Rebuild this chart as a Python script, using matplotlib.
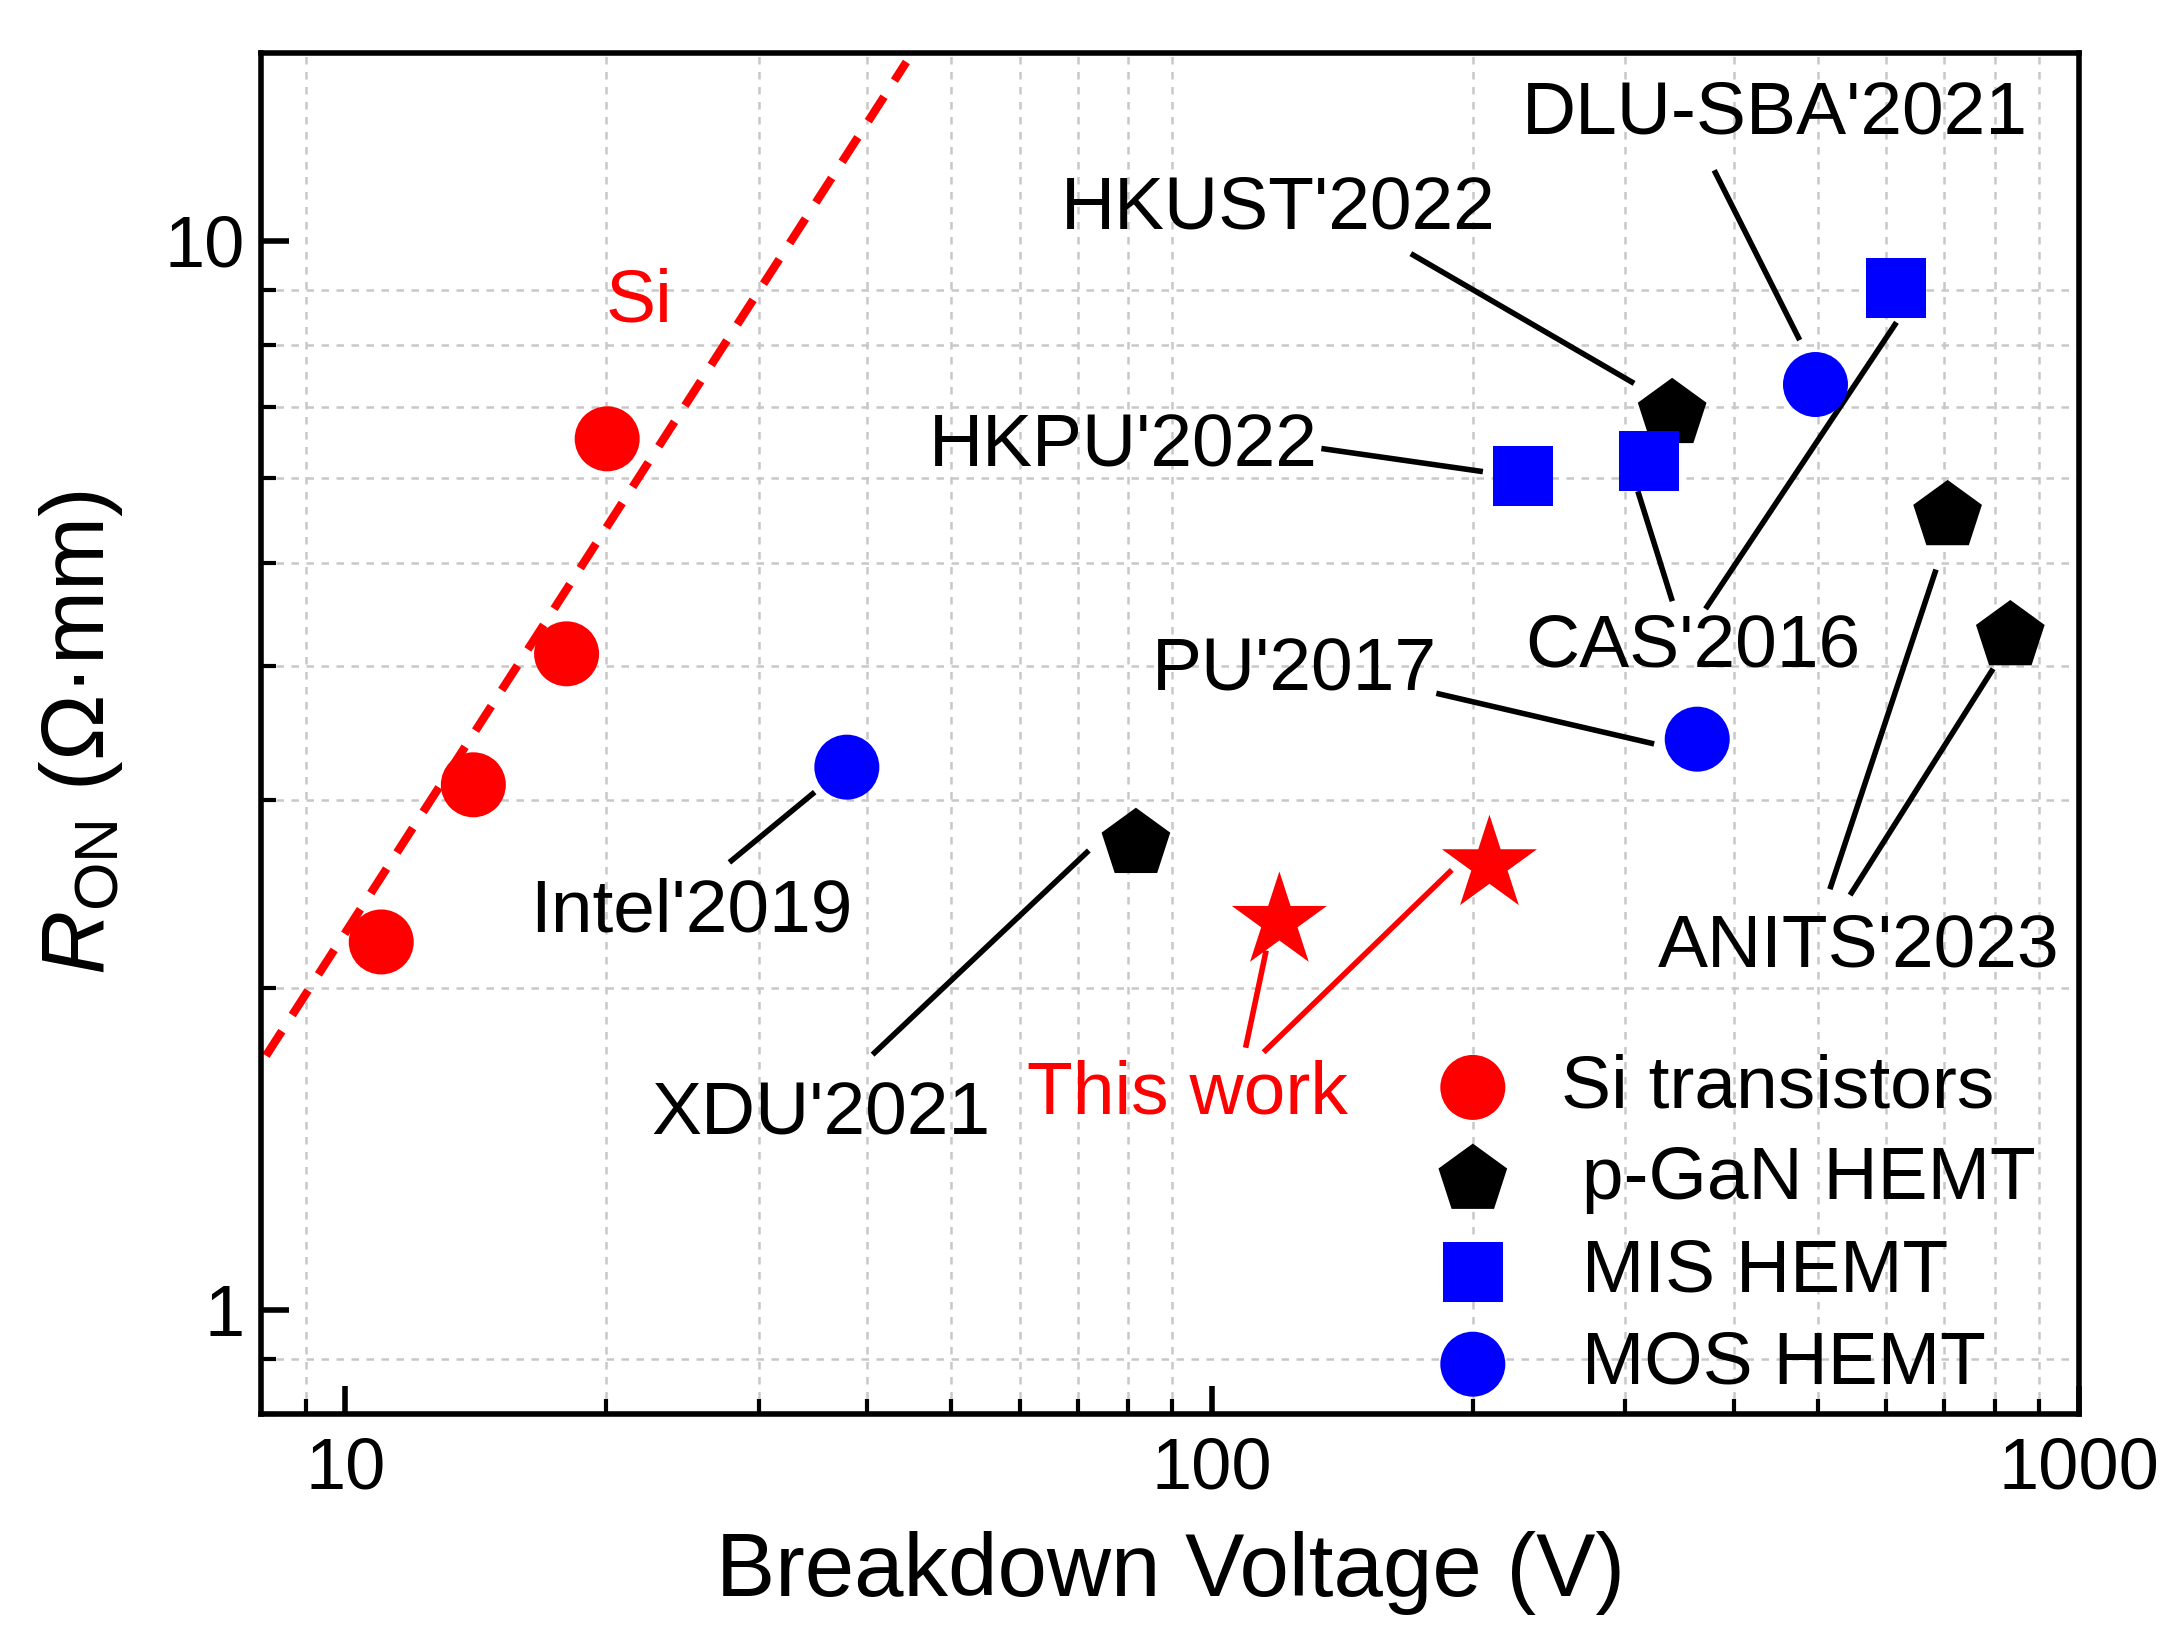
import matplotlib.pyplot as plt
import numpy as np

plt.rcParams['font.family'] = ['Liberation Sans', 'DejaVu Sans']
plt.rcParams['mathtext.fontset'] = 'custom'
plt.rcParams['mathtext.rm'] = 'Liberation Sans'
plt.rcParams['mathtext.it'] = 'Liberation Sans:italic'

# Si transistors
si_v = [11.0, 14.05, 18.0, 20.05]
si_r = [2.21, 3.10, 4.11, 6.53]

# p-GaN HEMT (XDU'2021, HKUST'2022, ANITS'2023 x2)
pgan_v = [81.7, 339.6, 706, 834]
pgan_r = [2.73, 6.89, 5.53, 4.27]

# MIS HEMT (HKPU'2022, CAS'2016 x2)
mis_v = [228.6, 319, 616]
mis_r = [6.03, 6.22, 9.03]

# MOS HEMT (Intel'2019, PU'2017, DLU-SBA'2021)
mos_v = [37.9, 363, 497]
mos_r = [3.22, 3.42, 7.34]

# this work
tw_v = [119.6, 209]
tw_r = [2.31, 2.61]

# Si limit
si_lim_v = [8.1, 44.4]
si_lim_r = [1.73, 14.7]

# etiquetas y lineas guia
etiquetas = ["HKUST'2022", "DLU-SBA'2021", "HKPU'2022", "CAS'2016",
             "PU'2017", "Intel'2019", "XDU'2021", "ANITS'2023"]
etiq_pos = [(119.2, 10.70), (446.6, 13.15), (79.1, 6.41), (359, 4.17),
            (124.6, 3.96), (25.1, 2.355), (35.4, 1.523), (557, 2.187)]
lineas = [
    [((170.7, 9.70), (305, 7.38))],
    [((381, 11.58), (475, 8.12))],
    [((134.7, 6.39), (203.9, 6.09))],
    [((339, 4.63), (310.7, 5.80)), ((372.6, 4.55), (613.8, 8.35))],
    [((182.8, 3.77), (321.4, 3.39))],
    [((27.9, 2.633), (34.6, 3.04))],
    [((40.8, 1.741), (71.7, 2.68))],
    [((517.6, 2.49), (683, 4.90)), ((547, 2.457), (793.6, 3.96))],
]
tw_pos = (93.7, 1.594)
tw_lineas = [((109.5, 1.77), (115.3, 2.157)), ((115.3, 1.75), (188.1, 2.57))]

fig = plt.figure(figsize=(10.9, 8.22), dpi=200)
ax = fig.add_axes([0.1199, 0.140, 0.9535 - 0.1199, 0.968 - 0.140])

ax.set_xscale('log')
ax.set_yscale('log')
ax.set_xlim(8, 1000)
ax.set_ylim(0.8, 15)

ax.grid(which='minor', linestyle=(0, (3, 3)), color='#c8c8c8', linewidth=0.9, zorder=0)
ax.grid(which='major', visible=False)

ax.plot(si_lim_v, si_lim_r, color='red', linewidth=3, dashes=(3.5, 2.3), zorder=2)
ax.text(21.8, 8.76, 'Si', color='red', fontsize=27, ha='center', va='center')

for nombre, pos, segs in zip(etiquetas, etiq_pos, lineas):
    ax.text(pos[0], pos[1], nombre, fontsize=27, ha='center', va='center', zorder=5)
    for (x0, y0), (x1, y1) in segs:
        ax.plot([x0, x1], [y0, y1], color='black', linewidth=2, zorder=3)

ax.text(tw_pos[0], tw_pos[1], 'This work', color='red', fontsize=27, ha='center', va='center', zorder=5)
for (x0, y0), (x1, y1) in tw_lineas:
    ax.plot([x0, x1], [y0, y1], color='red', linewidth=2, zorder=3)

ax.scatter(si_v, si_r, s=23.4**2, marker='o', color='red', edgecolors='none', zorder=4, label='Si transistors')
ax.scatter(pgan_v, pgan_r, s=26**2, marker='p', color='black', edgecolors='none', zorder=4, label=' p-GaN HEMT')
ax.scatter(mis_v, mis_r, s=21.6**2, marker='s', color='blue', edgecolors='none', zorder=4, label=' MIS HEMT')
ax.scatter(mos_v, mos_r, s=23.4**2, marker='o', color='blue', edgecolors='none', zorder=4, label=' MOS HEMT')
ax.scatter(tw_v, tw_r, s=36**2, marker='*', color='red', edgecolors='none', zorder=4)

ax.legend(loc='upper left', bbox_to_anchor=(0.646, 0.265), frameon=False, fontsize=27,
          handlelength=1.0, handletextpad=0.67, labelspacing=0.31, borderpad=0,
          borderaxespad=0, scatterpoints=1)

for lado in ['left', 'right', 'top', 'bottom']:
    ax.spines[lado].set_linewidth(2)
ax.tick_params(which='major', direction='in', length=10, width=2, labelsize=26, pad=8)
ax.tick_params(which='minor', direction='in', length=5.5, width=1.5)
ax.tick_params(axis='y', which='major', pad=6)
fmt = plt.FuncFormatter(lambda v, p: f"{v:g}")
ax.xaxis.set_major_formatter(fmt)
ax.yaxis.set_major_formatter(fmt)
ax.xaxis.set_minor_formatter(plt.NullFormatter())
ax.yaxis.set_minor_formatter(plt.NullFormatter())

ax.set_xlabel('Breakdown Voltage (V)', fontsize=32, labelpad=10)
ax.set_ylabel(r'$R_{\mathrm{ON}}$ (Ω·mm)', fontsize=32, labelpad=14)

fig.savefig('out.png', dpi=200)
